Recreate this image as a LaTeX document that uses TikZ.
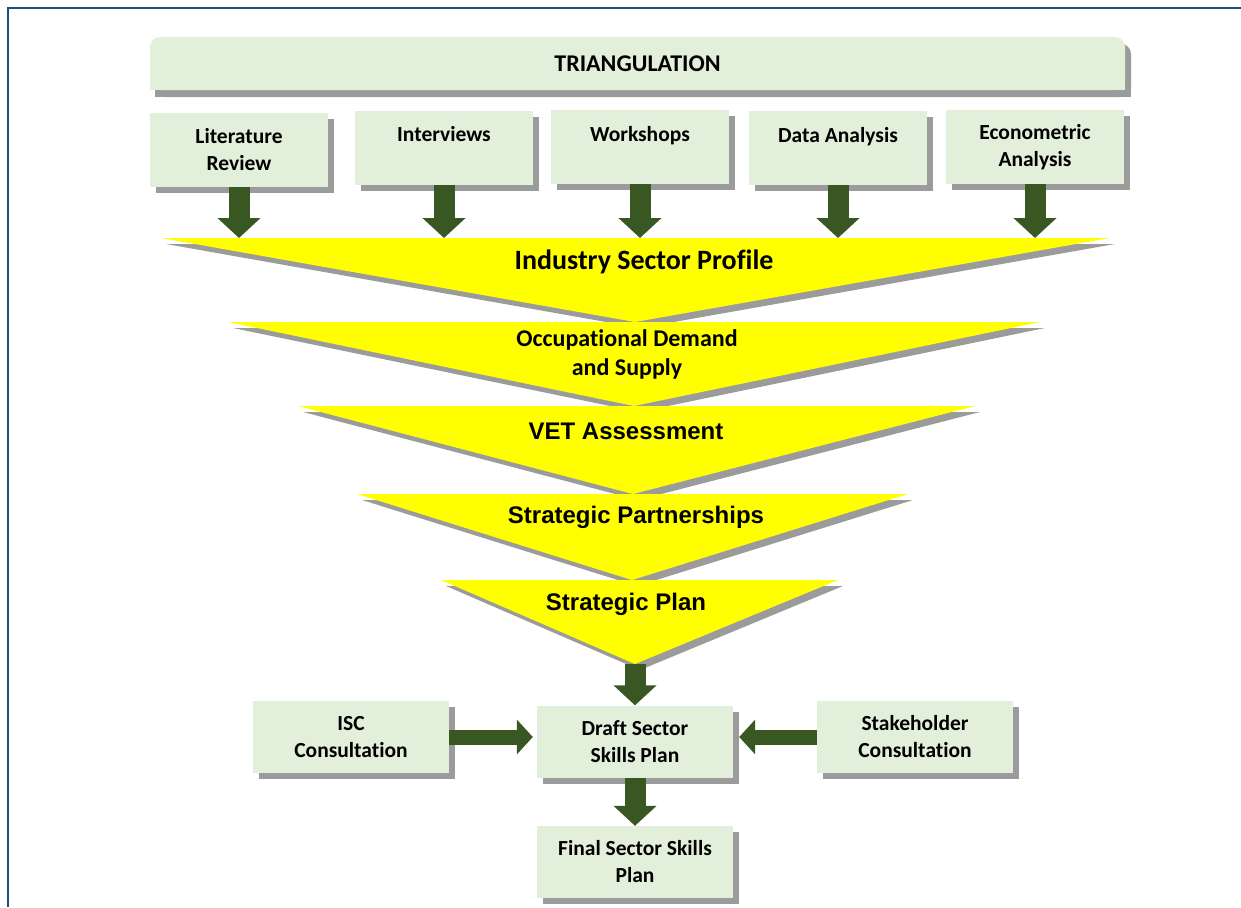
\documentclass[tikz,border=0pt]{standalone}
\usepackage{fontspec}
\setmainfont{Carlito}[Ligatures=NoCommon]
\newfontfamily\arialfont{Liberation Sans}
\usetikzlibrary{arrows.meta,shadows}

\definecolor{boxgreen}{RGB}{226,239,218}
\definecolor{arrowgreen}{RGB}{56,87,34}
\definecolor{shadowgray}{RGB}{155,155,155}
\definecolor{frameblue}{RGB}{31,78,121}
\definecolor{funnelyellow}{RGB}{255,255,0}

\begin{document}
\begin{tikzpicture}
      [line join=miter,x=1pt,y=-1pt,
       box/.style={fill=boxgreen,inner sep=0pt,align=center,
         font=\bfseries\fontsize{21.5}{27}\selectfont,
         drop shadow={shadow xshift=6pt,shadow yshift=-6pt,fill=shadowgray,opacity=1}},
       topbox/.style={box,minimum width=178pt,minimum height=74pt},
       lowbox/.style={box,minimum width=196pt,minimum height=72pt},
       downarrow/.style={draw=arrowgreen,line width=21pt,-{Triangle[width=42pt,length=20pt]}},
       sidearrow/.style={draw=arrowgreen,line width=15pt,-{Triangle[width=34pt,length=16pt]}},
       funnel/.style={fill=funnelyellow},
       funnelshadow/.style={fill=shadowgray,shift={(5,6)}},
       calibrifont/.style={font=\bfseries\fontsize{#1}{29}\selectfont,align=center},
       arialfont/.style={font=\arialfont\bfseries\fontsize{24}{28}\selectfont}]

\useasboundingbox (0,0) rectangle (1241,907);

%frame
  \draw[frameblue,line width=1.6pt] (8,907) -- (8,8) -- (1241,8);

%banner
  \fill[shadowgray,rounded corners=10pt] (155,44) rectangle (1131,97);
  \fill[shadowgray] (155,70) rectangle (1131,97);
  \fill[boxgreen,rounded corners=10pt] (150,37) rectangle (1125,90);
  \fill[boxgreen] (150,60) rectangle (1125,90);
  \node[calibrifont=24] (tri) at (637.5,64) {TRIANGULATION};

%source boxes
  \node[topbox] (lit) at (239,149.5) {Literature\\Review};
  \node[topbox] (int) at (444,147.5) {Interviews\\~};
  \node[topbox] (work) at (640,147) {Workshops\\~};
  \node[topbox] (data) at (838,148) {Data Analysis\\~};
  \node[topbox] (econ) at (1035,147) {Econometric\\Analysis};

%funnel layer
  \fill[funnelshadow] (161,238) -- (1110,238) -- (635,322) -- cycle;
  \fill[funnel] (161,238) coordinate (isp-l) -- (1110,238) -- (635,322) -- cycle;
  \node[calibrifont=28] (isp) at (644,262) {Industry Sector Profile};

  \fill[funnelshadow] (228,322) -- (1040,322) -- (634,406) -- cycle;
  \fill[funnel] (228,322) -- (1040,322) -- (634,406) -- cycle;
  \node[calibrifont=24] (ods) at (627,354) {Occupational Demand\\and Supply};

  \fill[funnelshadow] (298,406) -- (975,406) -- (633,494) -- cycle;
  \fill[funnel] (298,406) -- (975,406) -- (633,494) -- cycle;
  \node[arialfont] (vet) at (626,431) {VET Assessment};

  \fill[funnelshadow] (357,494) -- (908,494) -- (632,580) -- cycle;
  \fill[funnel] (357,494) -- (908,494) -- (632,580) -- cycle;
  \node[arialfont] (spa) at (636,517) {Strategic Partnerships};

  \fill[funnelshadow] (441,580) -- (838,580) -- (635,664) -- cycle;
  \fill[funnel] (441,580) -- (838,580) -- (635,664) coordinate (spl-tip) -- cycle;
  \node[arialfont] (spl) at (626,604) {Strategic Plan};

%plan boxes
  \node[lowbox] (draft) at (635,741.5) {Draft Sector\\Skills Plan};
  \node[lowbox] (isc) at (351,737) {ISC\\Consultation};
  \node[lowbox] (stake) at (915,737) {Stakeholder\\Consultation};
  \node[lowbox] (final) at (635,862) {Final Sector Skills\\Plan};

%arrows
  \draw[downarrow] (lit.south) -- (lit.south |- isp-l);
  \draw[downarrow] (int.south) -- (int.south |- isp-l);
  \draw[downarrow] (work.south) -- (work.south |- isp-l);
  \draw[downarrow] (data.south) -- (data.south |- isp-l);
  \draw[downarrow] (econ.south) -- (econ.south |- isp-l);
  \draw[downarrow] (spl-tip) -- (draft.north);
  \draw[downarrow] (draft.south) -- (final.north);
  \draw[sidearrow,shorten >=4pt] (isc.east) -- (isc.east -| draft.west);
  \draw[sidearrow,shorten >=6pt] (stake.west) -- (stake.west -| draft.east);

\end{tikzpicture}
\end{document}
